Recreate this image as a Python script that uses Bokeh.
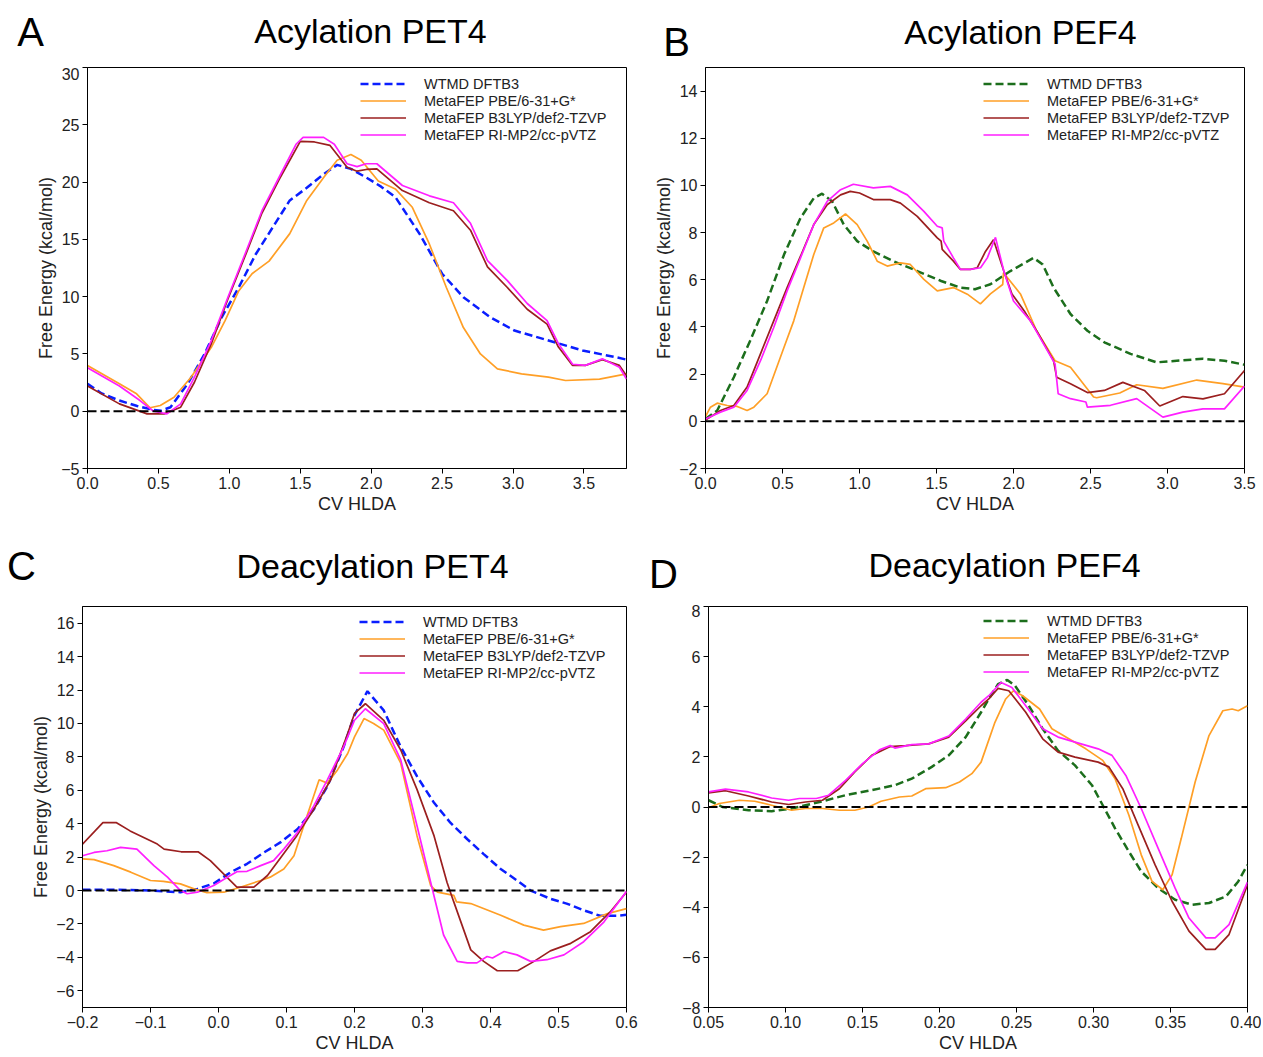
from bokeh.plotting import figure
from bokeh.models import Span, Legend, LegendItem, Label, FixedTicker
from bokeh.layouts import row, column
from bokeh.embed import file_html
from bokeh.resources import INLINE

FONT = "Liberation Sans"

SERIES_NAMES = ["WTMD DFTB3", "MetaFEP PBE/6-31+G*", "MetaFEP B3LYP/def2-TZVP", "MetaFEP RI-MP2/cc-pVTZ"]
X_LABEL = "CV HLDA"
Y_LABEL = "Free Energy (kcal/mol)"
TITLES = ["Acylation PET4", "Acylation PEF4", "Deacylation PET4", "Deacylation PEF4"]
LETTERS = ["A", "B", "C", "D"]

# ---------------- Panel A : Acylation PET4 ----------------
A_WTMD_X = [0.0, 0.1, 0.225, 0.35, 0.466, 0.52, 0.585, 0.706, 0.826, 0.946, 1.066, 1.186, 1.306, 1.426, 1.546, 1.665, 1.76, 1.857, 1.965, 2.07, 2.17, 2.34, 2.5, 2.65, 2.84, 3.01, 3.25, 3.49, 3.73, 3.8]
A_WTMD_Y = [2.39, 1.55, 0.93, 0.45, 0.12, 0.05, 0.35, 2.39, 5.0, 8.2, 10.8, 13.7, 16.05, 18.4, 19.5, 20.7, 21.5, 21.15, 20.4, 19.6, 18.7, 15.5, 12.0, 9.95, 8.2, 7.04, 6.17, 5.3, 4.7, 4.5]
A_PBE_X = [0.0, 0.225, 0.346, 0.441, 0.513, 0.61, 0.73, 0.873, 0.97, 1.066, 1.16, 1.28, 1.426, 1.546, 1.665, 1.76, 1.857, 1.93, 2.05, 2.17, 2.29, 2.41, 2.53, 2.65, 2.77, 2.89, 3.06, 3.25, 3.37, 3.61, 3.8]
A_PBE_Y = [3.99, 2.39, 1.52, 0.3, 0.5, 1.22, 2.97, 5.58, 7.9, 10.5, 12.0, 13.1, 15.5, 18.4, 20.4, 21.9, 22.4, 21.9, 20.1, 19.4, 17.8, 14.6, 10.8, 7.3, 5.0, 3.7, 3.26, 2.97, 2.68, 2.8, 3.26]
A_B3_X = [0.0, 0.225, 0.42, 0.54, 0.657, 0.754, 0.873, 0.99, 1.11, 1.23, 1.35, 1.5, 1.6, 1.71, 1.83, 1.9, 1.965, 2.04, 2.22, 2.41, 2.58, 2.7, 2.82, 2.96, 3.1, 3.24, 3.32, 3.42, 3.51, 3.63, 3.75, 3.8]
A_B3_Y = [2.2, 0.64, -0.23, -0.23, 0.35, 2.53, 5.9, 9.8, 13.5, 17.3, 20.2, 23.55, 23.5, 23.2, 21.3, 20.95, 21.1, 21.15, 19.26, 18.2, 17.5, 15.8, 12.6, 10.8, 8.9, 7.6, 5.6, 4.0, 4.0, 4.5, 4.0, 3.1]
A_RI_X = [0.0, 0.225, 0.37, 0.466, 0.56, 0.657, 0.754, 0.873, 0.99, 1.11, 1.23, 1.35, 1.47, 1.52, 1.665, 1.74, 1.83, 1.9, 1.965, 2.04, 2.22, 2.41, 2.58, 2.7, 2.82, 2.96, 3.1, 3.24, 3.32, 3.42, 3.51, 3.63, 3.75, 3.8]
A_RI_Y = [3.8, 2.2, 0.93, 0.0, -0.23, 0.64, 2.97, 6.17, 9.95, 13.7, 17.5, 20.4, 23.3, 23.9, 23.9, 23.3, 21.6, 21.35, 21.6, 21.6, 19.7, 18.8, 18.2, 16.4, 13.15, 11.4, 9.4, 7.9, 5.9, 4.1, 4.0, 4.57, 3.84, 2.8]
A_XTICKS = [0.0, 0.5, 1.0, 1.5, 2.0, 2.5, 3.0, 3.5]
A_XLABELS = ["0.0", "0.5", "1.0", "1.5", "2.0", "2.5", "3.0", "3.5"]
A_YTICKS = [-5, 0, 5, 10, 15, 20, 25, 30]
A_YLABELS = ["\u22125", "0", "5", "10", "15", "20", "25", "30"]

# ---------------- Panel B : Acylation PEF4 ----------------
B_WTMD_X = [0.0, 0.076, 0.184, 0.29, 0.4, 0.51, 0.617, 0.703, 0.757, 0.823, 0.898, 0.985, 1.09, 1.22, 1.375, 1.53, 1.655, 1.75, 1.85, 1.98, 2.13, 2.19, 2.26, 2.37, 2.48, 2.59, 2.76, 2.93, 3.06, 3.23, 3.37, 3.5]
B_WTMD_Y = [0.1, 0.46, 1.87, 3.42, 5.1, 7.07, 8.62, 9.46, 9.65, 9.32, 8.34, 7.64, 7.2, 6.79, 6.37, 5.95, 5.67, 5.6, 5.81, 6.37, 6.93, 6.65, 5.67, 4.55, 3.84, 3.35, 2.86, 2.5, 2.57, 2.65, 2.57, 2.4]
B_PBE_X = [0.0, 0.032, 0.076, 0.141, 0.206, 0.27, 0.314, 0.4, 0.51, 0.573, 0.638, 0.703, 0.768, 0.833, 0.909, 0.985, 1.05, 1.115, 1.18, 1.266, 1.33, 1.418, 1.505, 1.61, 1.7, 1.785, 1.85, 1.93, 1.935, 2.045, 2.15, 2.27, 2.37, 2.52, 2.54, 2.69, 2.8, 2.97, 3.19, 3.36, 3.5]
B_PBE_Y = [0.2, 0.6, 0.77, 0.67, 0.63, 0.46, 0.6, 1.17, 3.14, 4.26, 5.67, 7.07, 8.2, 8.41, 8.79, 8.34, 7.64, 6.79, 6.58, 6.72, 6.65, 6.02, 5.53, 5.67, 5.39, 4.98, 5.4, 5.8, 6.3, 5.4, 3.84, 2.57, 2.29, 1.03, 1.0, 1.2, 1.55, 1.4, 1.75, 1.6, 1.45]
B_B3_X = [0.0, 0.097, 0.184, 0.27, 0.357, 0.443, 0.53, 0.617, 0.703, 0.79, 0.877, 0.94, 1.0, 1.09, 1.2, 1.266, 1.375, 1.505, 1.53, 1.537, 1.61, 1.655, 1.72, 1.764, 1.818, 1.87, 1.937, 1.99, 2.07, 2.15, 2.26, 2.28, 2.37, 2.48, 2.59, 2.71, 2.85, 2.95, 3.1, 3.23, 3.37, 3.5]
B_B3_Y = [0.05, 0.46, 0.67, 1.45, 2.86, 4.26, 5.67, 7.0, 8.34, 9.18, 9.6, 9.75, 9.68, 9.4, 9.4, 9.25, 8.69, 7.78, 7.64, 7.29, 6.79, 6.44, 6.44, 6.51, 7.2, 7.7, 6.37, 5.4, 4.68, 3.84, 2.57, 1.87, 1.59, 1.22, 1.31, 1.65, 1.31, 0.65, 1.05, 0.95, 1.17, 2.15]
B_RI_X = [0.0, 0.097, 0.184, 0.27, 0.357, 0.443, 0.53, 0.617, 0.703, 0.79, 0.877, 0.96, 1.09, 1.2, 1.31, 1.418, 1.505, 1.537, 1.547, 1.61, 1.655, 1.72, 1.786, 1.83, 1.883, 1.937, 2.0, 2.11, 2.22, 2.27, 2.29, 2.37, 2.47, 2.48, 2.63, 2.8, 2.97, 3.1, 3.23, 3.37, 3.5]
B_RI_Y = [0.1, 0.39, 0.6, 1.31, 2.57, 3.98, 5.53, 6.93, 8.34, 9.32, 9.82, 10.05, 9.9, 9.96, 9.6, 8.9, 8.27, 8.2, 7.64, 6.93, 6.44, 6.44, 6.51, 6.93, 7.8, 6.37, 5.1, 4.26, 3.0, 2.43, 1.17, 0.96, 0.82, 0.6, 0.68, 0.96, 0.18, 0.39, 0.53, 0.53, 1.5]
B_XTICKS = [0.0, 0.5, 1.0, 1.5, 2.0, 2.5, 3.0, 3.5]
B_XLABELS = ["0.0", "0.5", "1.0", "1.5", "2.0", "2.5", "3.0", "3.5"]
B_YTICKS = [-2, 0, 2, 4, 6, 8, 10, 12, 14]
B_YLABELS = ["\u22122", "0", "2", "4", "6", "8", "10", "12", "14"]

# ---------------- Panel C : Deacylation PET4 ----------------
C_WTMD_X = [-0.2, -0.15, -0.1, -0.056, -0.031, -0.007, 0.018, 0.042, 0.067, 0.091, 0.116, 0.14, 0.16, 0.184, 0.2, 0.219, 0.243, 0.268, 0.292, 0.317, 0.341, 0.366, 0.39, 0.415, 0.439, 0.459, 0.488, 0.512, 0.537, 0.561, 0.586, 0.6]
C_WTMD_Y = [0.05, 0.05, 0.0, -0.1, 0.1, 0.42, 1.1, 1.6, 2.28, 2.88, 3.67, 4.85, 6.23, 8.6, 10.5, 11.93, 10.78, 8.6, 6.83, 5.25, 4.06, 3.07, 2.18, 1.29, 0.6, 0.0, -0.49, -0.78, -1.18, -1.51, -1.51, -1.45]
C_PBE_X = [-0.2, -0.183, -0.154, -0.129, -0.1, -0.081, -0.056, -0.036, -0.017, 0.008, 0.032, 0.062, 0.076, 0.096, 0.111, 0.13, 0.148, 0.16, 0.175, 0.19, 0.2, 0.214, 0.228, 0.243, 0.268, 0.292, 0.312, 0.322, 0.346, 0.35, 0.371, 0.415, 0.449, 0.478, 0.503, 0.537, 0.572, 0.6]
C_PBE_Y = [1.89, 1.85, 1.49, 1.1, 0.6, 0.55, 0.4, 0.1, -0.13, -0.1, 0.2, 0.6, 0.8, 1.29, 2.08, 4.45, 6.63, 6.43, 7.22, 8.2, 9.2, 10.29, 10.0, 9.6, 7.62, 3.27, 0.3, -0.09, -0.29, -0.68, -0.78, -1.48, -2.07, -2.37, -2.16, -1.97, -1.38, -1.08]
C_B3_X = [-0.2, -0.17, -0.15, -0.13, -0.09, -0.08, -0.055, -0.03, -0.012, 0.027, 0.052, 0.072, 0.09, 0.115, 0.14, 0.165, 0.19, 0.2, 0.216, 0.243, 0.268, 0.292, 0.317, 0.336, 0.346, 0.371, 0.39, 0.41, 0.44, 0.464, 0.488, 0.518, 0.547, 0.576, 0.6]
C_B3_Y = [2.78, 4.06, 4.06, 3.57, 2.78, 2.48, 2.32, 2.32, 1.79, 0.2, 0.2, 0.9, 1.89, 3.27, 4.85, 6.63, 9.4, 10.6, 11.18, 10.19, 8.41, 6.04, 3.27, 0.5, -0.68, -3.55, -4.24, -4.8, -4.8, -4.24, -3.61, -3.16, -2.46, -1.28, -0.09]
C_RI_X = [-0.2, -0.183, -0.164, -0.144, -0.12, -0.095, -0.075, -0.056, -0.046, -0.031, -0.007, 0.013, 0.027, 0.042, 0.062, 0.081, 0.096, 0.116, 0.14, 0.16, 0.184, 0.2, 0.216, 0.243, 0.268, 0.292, 0.312, 0.331, 0.351, 0.366, 0.38, 0.395, 0.403, 0.42, 0.439, 0.459, 0.483, 0.508, 0.537, 0.567, 0.6]
C_RI_Y = [2.08, 2.28, 2.38, 2.58, 2.48, 1.49, 0.8, 0.0, -0.19, -0.1, 0.3, 0.8, 1.13, 1.15, 1.49, 1.79, 2.48, 3.47, 5.05, 6.63, 8.6, 10.19, 10.88, 9.99, 7.82, 3.86, 0.5, -2.66, -4.24, -4.33, -4.33, -3.95, -4.04, -3.65, -3.85, -4.24, -4.14, -3.85, -3.06, -1.87, -0.05]
C_XTICKS = [-0.2, -0.1, 0.0, 0.1, 0.2, 0.3, 0.4, 0.5, 0.6]
C_XLABELS = ["\u22120.2", "\u22120.1", "0.0", "0.1", "0.2", "0.3", "0.4", "0.5", "0.6"]
C_YTICKS = [-6, -4, -2, 0, 2, 4, 6, 8, 10, 12, 14, 16]
C_YLABELS = ["\u22126", "\u22124", "\u22122", "0", "2", "4", "6", "8", "10", "12", "14", "16"]

# ---------------- Panel D : Deacylation PEF4 ----------------
D_WTMD_X = [0.05, 0.059, 0.076, 0.091, 0.104, 0.113, 0.124, 0.139, 0.156, 0.171, 0.182, 0.195, 0.206, 0.217, 0.227, 0.232, 0.238, 0.244, 0.249, 0.258, 0.267, 0.277, 0.288, 0.299, 0.306, 0.314, 0.323, 0.331, 0.342, 0.353, 0.364, 0.375, 0.386, 0.394, 0.4]
D_WTMD_Y = [0.27, 0.0, -0.13, -0.17, -0.06, 0.07, 0.23, 0.47, 0.67, 0.87, 1.13, 1.6, 2.06, 2.79, 3.78, 4.31, 4.9, 5.07, 4.84, 4.04, 3.12, 2.25, 1.66, 0.87, 0.07, -0.85, -1.78, -2.57, -3.24, -3.7, -3.9, -3.83, -3.57, -2.97, -2.31]
D_PBE_X = [0.05, 0.057, 0.07, 0.08, 0.091, 0.104, 0.113, 0.124, 0.135, 0.145, 0.154, 0.162, 0.174, 0.182, 0.191, 0.204, 0.213, 0.221, 0.227, 0.23, 0.236, 0.243, 0.248, 0.254, 0.265, 0.273, 0.284, 0.295, 0.306, 0.314, 0.323, 0.331, 0.338, 0.345, 0.351, 0.357, 0.366, 0.375, 0.384, 0.39, 0.394, 0.4]
D_PBE_Y = [-0.03, 0.14, 0.27, 0.23, 0.07, -0.13, -0.06, -0.06, -0.13, -0.13, 0.0, 0.23, 0.4, 0.44, 0.73, 0.77, 1.0, 1.33, 1.79, 2.32, 3.38, 4.31, 4.64, 4.44, 3.91, 3.12, 2.72, 2.32, 1.86, 1.13, -0.33, -1.91, -2.97, -3.3, -2.71, -1.25, 1.0, 2.85, 3.84, 3.91, 3.84, 4.04]
D_B3_X = [0.05, 0.061, 0.076, 0.091, 0.102, 0.113, 0.124, 0.135, 0.145, 0.156, 0.168, 0.178, 0.193, 0.206, 0.217, 0.227, 0.232, 0.238, 0.245, 0.256, 0.267, 0.277, 0.288, 0.303, 0.31, 0.319, 0.329, 0.34, 0.351, 0.362, 0.373, 0.379, 0.388, 0.4]
D_B3_Y = [0.56, 0.65, 0.44, 0.2, 0.1, 0.2, 0.27, 0.73, 1.4, 2.06, 2.41, 2.45, 2.52, 2.79, 3.44, 4.04, 4.31, 4.73, 4.64, 3.78, 2.72, 2.19, 1.99, 1.79, 1.6, 0.73, -0.72, -2.31, -3.76, -4.95, -5.68, -5.68, -5.09, -3.1]
D_RI_X = [0.05, 0.061, 0.076, 0.091, 0.102, 0.109, 0.12, 0.128, 0.139, 0.15, 0.161, 0.168, 0.171, 0.182, 0.193, 0.206, 0.217, 0.227, 0.232, 0.24, 0.247, 0.256, 0.267, 0.277, 0.288, 0.303, 0.312, 0.321, 0.331, 0.342, 0.353, 0.362, 0.373, 0.379, 0.388, 0.4]
D_RI_Y = [0.6, 0.71, 0.6, 0.36, 0.27, 0.34, 0.34, 0.47, 1.06, 1.73, 2.28, 2.45, 2.35, 2.49, 2.52, 2.83, 3.51, 4.18, 4.44, 4.97, 4.77, 4.04, 3.12, 2.79, 2.59, 2.32, 2.06, 1.26, -0.06, -1.65, -3.24, -4.43, -5.22, -5.22, -4.69, -3.0]
D_XTICKS = [0.05, 0.1, 0.15, 0.2, 0.25, 0.3, 0.35, 0.4]
D_XLABELS = ["0.05", "0.10", "0.15", "0.20", "0.25", "0.30", "0.35", "0.40"]
D_YTICKS = [-8, -6, -4, -2, 0, 2, 4, 6, 8]
D_YLABELS = ["\u22128", "\u22126", "\u22124", "\u22122", "0", "2", "4", "6", "8"]

ORANGE = "#ff9f26"
BROWN = "#9b1f1f"
MAGENTA = "#ff1fff"
BLUE = "#0a1eff"
GREEN = "#1c6e1c"

TOTAL_W = 1261


def make_header(h, titles, title_pos, letters, letter_pos):
    p = figure(width=TOTAL_W, height=h, x_range=(0, TOTAL_W), y_range=(0, h), title=None,
               output_backend="svg", toolbar_location=None,
               x_axis_location=None, y_axis_location=None, min_border=0)
    p.xgrid.visible = False
    p.ygrid.visible = False
    p.outline_line_color = None
    p.background_fill_color = "white"
    p.border_fill_color = "white"
    for t, (tx, ty) in zip(titles, title_pos):
        p.add_layout(Label(x=tx, y=ty, text=t, text_font=FONT,
                           text_font_size="34px", text_align="center",
                           text_baseline="middle", text_color="black"))
    for t, (tx, ty) in zip(letters, letter_pos):
        p.add_layout(Label(x=tx, y=ty, text=t, text_font=FONT,
                           text_font_size="40px", text_align="center",
                           text_baseline="middle", text_color="black"))
    return p


def make_panel(size, borders, xr, yr, xt, xl, yt, yl, ylabel, series,
               wtmd_color, legend_left, legend_top):
    w, h = size
    bl, br, bt, bb = borders
    p = figure(width=w, height=h, x_range=xr, y_range=yr, title=None,
               output_backend="svg", toolbar_location=None,
               min_border_left=bl, min_border_right=br,
               min_border_top=bt, min_border_bottom=bb)
    p.xgrid.visible = False
    p.ygrid.visible = False
    p.outline_line_color = "black"
    p.outline_line_alpha = 1.0
    p.outline_line_width = 1
    p.background_fill_color = "white"
    p.border_fill_color = "white"

    p.xaxis.ticker = FixedTicker(ticks=xt)
    p.yaxis.ticker = FixedTicker(ticks=yt)
    p.xaxis.major_label_overrides = dict(zip(xt, xl))
    p.yaxis.major_label_overrides = dict(zip(yt, yl))
    for ax in (p.xaxis[0], p.yaxis[0]):
        ax.axis_line_color = "black"
        ax.major_tick_line_color = "black"
        ax.major_tick_out = 5
        ax.major_tick_in = 0
        ax.minor_tick_line_color = None
        ax.major_label_text_font = FONT
        ax.major_label_text_font_size = "16px"
        ax.major_label_text_color = "#222222"
        ax.axis_label_text_font = FONT
        ax.axis_label_text_font_size = "18px"
        ax.axis_label_text_font_style = "normal"
        ax.axis_label_text_color = "#222222"
        ax.major_label_standoff = 3
        ax.axis_label_standoff = 2
    p.xaxis.axis_label = X_LABEL
    if ylabel:
        p.yaxis.axis_label = Y_LABEL

    p.add_layout(Span(location=0, dimension="width", line_color="black",
                      line_dash="9 4", line_width=2))

    colors = [wtmd_color, ORANGE, BROWN, MAGENTA]
    items = []
    for i, ((sx, sy), c) in enumerate(zip(series, colors)):
        if i == 0:
            r = p.line(sx, sy, line_color=c, line_width=2.5, line_dash="8 4")
        else:
            r = p.line(sx, sy, line_color=c, line_width=1.7)
        items.append(LegendItem(label=SERIES_NAMES[i], renderers=[r]))

    frame_h = h - bt - bb
    leg_h = 4 * 17
    legend = Legend(items=items, location=(legend_left, frame_h - legend_top - leg_h),
                    border_line_alpha=0, background_fill_alpha=0,
                    padding=0, margin=0, spacing=0,
                    glyph_width=46, glyph_height=17, label_height=17,
                    label_standoff=18, label_text_font=FONT,
                    label_text_font_size="14.5px", label_text_color="#222222")
    p.add_layout(legend)
    return p


h1 = make_header(67, TITLES[:2], [(370, 37), (1020, 36)], LETTERS[:2], [(30, 36), (676, 26)])
h2 = make_header(69, TITLES[2:], [(372, 39), (1004, 40)], LETTERS[2:], [(21, 39), (663, 31)])

pA = make_panel((638, 468), (87, 12, 0, 67), (0.0, 3.8), (-5, 30),
                A_XTICKS, A_XLABELS, A_YTICKS, A_YLABELS, True,
                [(A_WTMD_X, A_WTMD_Y), (A_PBE_X, A_PBE_Y), (A_B3_X, A_B3_Y), (A_RI_X, A_RI_Y)],
                BLUE, 273, 8)
pB = make_panel((623, 468), (67, 17, 0, 67), (0.0, 3.5), (-2, 15),
                B_XTICKS, B_XLABELS, B_YTICKS, B_YLABELS, True,
                [(B_WTMD_X, B_WTMD_Y), (B_PBE_X, B_PBE_Y), (B_B3_X, B_B3_Y), (B_RI_X, B_RI_Y)],
                GREEN, 278, 8)
pC = make_panel((638, 451), (82, 12, 0, 47), (-0.2, 0.6), (-7, 17),
                C_XTICKS, C_XLABELS, C_YTICKS, C_YLABELS, True,
                [(C_WTMD_X, C_WTMD_Y), (C_PBE_X, C_PBE_Y), (C_B3_X, C_B3_Y), (C_RI_X, C_RI_Y)],
                BLUE, 277, 10)
pD = make_panel((623, 451), (70, 14, 2, 47), (0.05, 0.40), (-8, 8),
                D_XTICKS, D_XLABELS, D_YTICKS, D_YLABELS, False,
                [(D_WTMD_X, D_WTMD_Y), (D_PBE_X, D_PBE_Y), (D_B3_X, D_B3_Y), (D_RI_X, D_RI_Y)],
                GREEN, 275, 7)

layout = column(h1, row(pA, pB), h2, row(pC, pD))

with open("out.html", "w") as f:
    f.write(file_html(layout, INLINE))
